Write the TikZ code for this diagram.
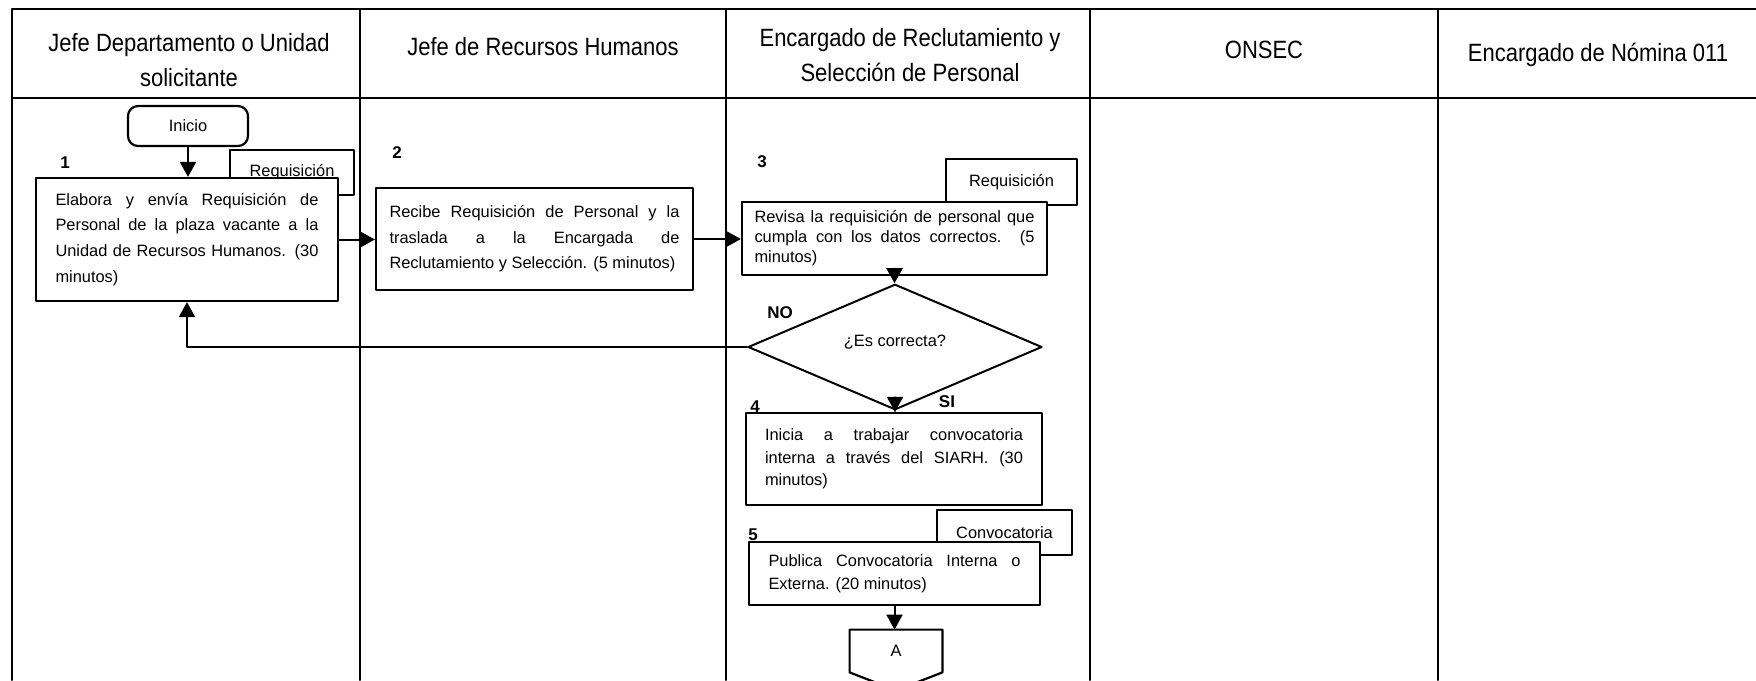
\documentclass[tikz,border=0pt]{standalone}
\usepackage{fontspec}
\setmainfont{Liberation Sans}
\newfontfamily\headfont[FakeStretch=0.88]{Liberation Sans}
\usetikzlibrary{arrows.meta,shapes.geometric}

\newcommand{\bodyfont}[1]{\fontsize{8.2}{#1}\selectfont}
\hbadness=10000
\hyphenpenalty=10000
\exhyphenpenalty=10000

\tikzset{
  lane/.style={line width=1pt},
  lanehead/.style={font=\headfont\fontsize{12.5}{17.5}\selectfont, align=center, inner sep=0pt},
  taskbox/.style={draw, line width=1.1pt, fill=white, align=justify, inner ysep=0pt},
  docbox/.style={draw, line width=1pt, fill=white, inner sep=0pt, font=\bodyfont{10}},
  startbox/.style={draw, line width=1.1pt, rounded corners=5pt, inner sep=0pt,
    minimum width=60pt, minimum height=20pt, font=\bodyfont{10}},
  decision/.style={draw, diamond, line width=1pt, inner sep=0pt, fill=white,
    minimum width=147pt, minimum height=45pt, font=\bodyfont{10}},
  flow/.style={line width=1pt, -{Triangle[length=7.5pt,width=8pt]}},
  stepnum/.style={font=\bfseries\fontsize{8.5}{10}\selectfont, inner sep=0pt},
}

\begin{document}
\begin{tikzpicture}[x=0.5pt, y=-0.5pt, line cap=round, line join=round]
  \useasboundingbox (0,0) rectangle (1756,680);

  % swimlanes
  \draw[lane] (12,680) -- (12,9) -- (1756,9);
  \draw[lane] (12,98) -- (1756,98);
  \foreach \x in {360,726,1090,1438}
    \draw[lane] (\x,9) -- (\x,680);

  \node[lanehead] (h1) at (189,60) {Jefe Departamento o Unidad\\solicitante};
  \node[lanehead] (h2) at (543,47) {Jefe de Recursos Humanos};
  \node[lanehead] (h3) at (910,55) {Encargado de Reclutamiento y\\Selección de Personal};
  \node[lanehead] (h4) at (1264,50) {ONSEC};
  \node[lanehead] (h5) at (1598,55) {Encargado de Nómina 011};

  % column 1
  \node[startbox] (inicio) at (188,126) {Inicio};
  \node[docbox, minimum width=62pt, minimum height=22.5pt] (doc1) at (292,172) {Requisición};
  \node[taskbox, text width=131.5pt, inner xsep=9.75pt, minimum height=61.5pt,
    font=\bodyfont{12.85}] (box1) at (187,239.5)
    {Elabora y envía Requisición de\linebreak Personal de la plaza vacante a la\linebreak
     Unidad de Recursos Humanos. (30\linebreak minutos)};
  \node[stepnum] (n1) at (65,163) {1};

  % column 2
  \node[taskbox, text width=145pt, inner xsep=6.75pt, minimum height=51pt,
    font=\bodyfont{12.7}] (box2) at (534.5,239)
    {Recibe Requisición de Personal y la\linebreak traslada a la Encargada de\linebreak
     Reclutamiento y Selección. (5 minutos)};
  \node[stepnum] (n2) at (397,153) {2};

  % column 3
  \node[docbox, minimum width=65.5pt, minimum height=23pt] (doc3) at (1011.5,182) {Requisición};
  \node[taskbox, text width=140pt, inner xsep=6.25pt, minimum height=36.5pt,
    font=\bodyfont{10}] (box3) at (894.5,238.5)
    {Revisa la requisición de personal que\linebreak cumpla con los datos correctos. (5\linebreak minutos)};
  \node[stepnum] (n3) at (762,162) {3};

  \node[decision] (dec) at (895,347) {\raisebox{6pt}{¿Es correcta?}};
  \node[stepnum] (no) at (780,313) {NO};
  \node[stepnum] (si) at (947,402) {SI};

  \node[taskbox, text width=129pt, inner xsep=9.5pt, minimum height=46pt,
    font=\bodyfont{11.3}] (box4) at (894,459)
    {Inicia a trabajar convocatoria\linebreak interna a través del SIARH. (30\linebreak minutos)};
  \node[stepnum] (n4) at (755,407) {4};

  \node[docbox, minimum width=67.5pt, minimum height=22.5pt] (doc5) at (1004.5,532.5) {Convocatoria};
  \node[taskbox, text width=126pt, inner xsep=9.75pt, minimum height=31.5pt,
    font=\bodyfont{11.5}] (box5) at (894.5,573.5)
    {Publica Convocatoria Interna o\linebreak Externa. (20 minutos)};
  \node[stepnum] (n5) at (753,535) {5};

  % off-page connector
  \node[inner sep=0pt, minimum width=46pt, minimum height=21pt, font=\bodyfont{10}] (conA) at (896,651) {A};
  \draw[line width=1.1pt] (conA.north west) -- (conA.north east) -- (conA.south east)
    -- ([yshift=-9pt]conA.south) -- (conA.south west) -- cycle;

  % connectors
  \draw[flow] (inicio.south) -- (inicio.south |- box1.north);
  \draw[flow] (box1.east) -- (box1.east -| box2.west);
  \draw[flow] (box2.east) -- (box2.east -| box3.west);
  \draw[flow] (box3.south) -- (box3.south |- dec.north);
  \draw[flow] (dec.west) -| (box1.south);
  \draw[flow] (dec.south) -- (dec.south |- box4.north);
  \draw[flow] (box5.south) -- (box5.south |- conA.north);
\end{tikzpicture}
\end{document}
